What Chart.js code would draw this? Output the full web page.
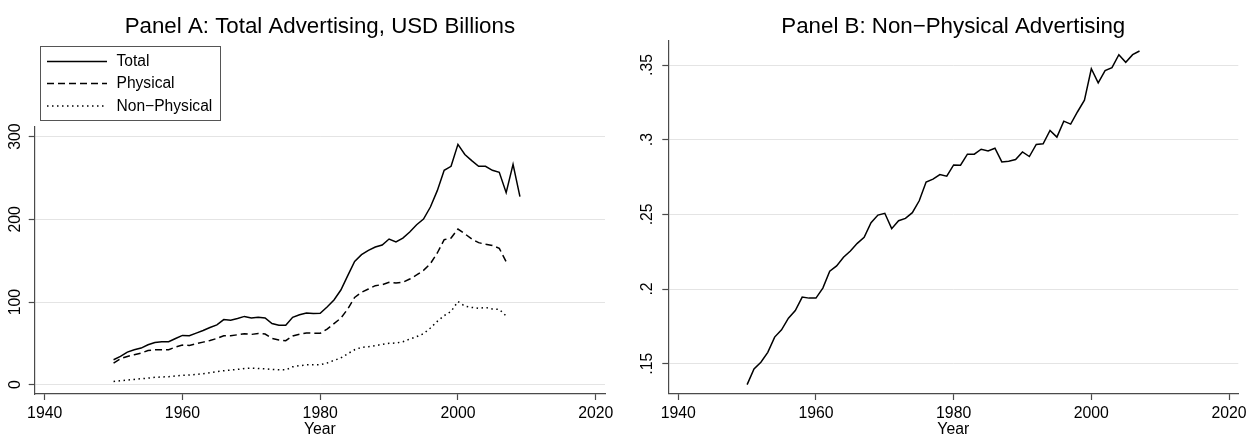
<!DOCTYPE html>
<html>
<head>
<meta charset="utf-8">
<script src="https://cdn.jsdelivr.net/npm/chart.js@4.4.1/dist/chart.umd.min.js"></script>
<style>
  html, body { margin: 0; padding: 0; background: #fff; }
  #wrap { position: relative; width: 1249px; height: 436px; }
  #panel-a { position: absolute; left: 0; top: 0; }
  #panel-b { position: absolute; left: 624px; top: 0; }
</style>
</head>
<body>
<div id="wrap">
  <canvas id="panel-a" width="624" height="436"></canvas>
  <canvas id="panel-b" width="625" height="436"></canvas>
</div>
<script>
// Advertising series, 1950 onward
const years = [
  1950, 1951, 1952, 1953, 1954, 1955, 1956, 1957, 1958, 1959,
  1960, 1961, 1962, 1963, 1964, 1965, 1966, 1967, 1968, 1969,
  1970, 1971, 1972, 1973, 1974, 1975, 1976, 1977, 1978, 1979,
  1980, 1981, 1982, 1983, 1984, 1985, 1986, 1987, 1988, 1989,
  1990, 1991, 1992, 1993, 1994, 1995, 1996, 1997, 1998, 1999,
  2000, 2001, 2002, 2003, 2004, 2005, 2006, 2007, 2008, 2009
];

// USD billions
const totalAds = [
  30.2, 34.2, 39.4, 42.3, 44.3, 48.3, 51.1, 51.9, 51.9, 55.9,
  59.6, 59.2, 62.4, 65.6, 69.2, 72.4, 78.8, 78.0, 80.0, 82.6,
  80.6, 81.6, 80.8, 73.9, 72.0, 71.8, 81.5, 84.6, 86.8, 86.0,
  86.3, 94.0, 102.4, 114.5, 131.9, 149.2, 157.3, 162.5, 166.5, 169.0,
  176.2, 172.6, 177.4, 184.7, 193.5, 200.4, 214.9, 234.7, 259.3, 264.1,
  290.7, 278.5, 271.0, 264.1, 264.1, 259.3, 256.9, 232.3, 266.5, 227.4
];
const physicalAds = [
  26.2, 31.4, 34.2, 36.2, 38.2, 41.4, 42.3, 42.3, 42.3, 45.5,
  47.9, 47.5, 49.5, 51.5, 53.5, 55.9, 59.2, 59.2, 60.4, 61.6,
  60.8, 62.0, 61.2, 56.0, 54.2, 53.2, 59.0, 61.1, 62.5, 62.3,
  62.1, 67.3, 73.8, 80.6, 91.5, 105.6, 111.7, 115.7, 119.8, 121.0,
  123.8, 123.0, 123.8, 127.8, 132.7, 138.3, 146.4, 159.3, 175.4, 177.4,
  188.3, 182.5, 176.2, 171.8, 169.8, 168.5, 164.9, 148.8
];
const nonPhysicalAds = [
  4.0, 4.8, 5.6, 6.4, 7.2, 8.0, 8.9, 9.3, 9.7, 10.5,
  11.3, 11.7, 12.5, 13.3, 14.5, 15.7, 16.9, 17.7, 18.5, 19.7,
  20.1, 19.7, 19.3, 18.5, 18.1, 17.9, 21.6, 23.0, 24.0, 24.2,
  24.2, 26.2, 29.4, 32.3, 37.5, 42.3, 45.2, 46.0, 47.2, 48.8,
  50.0, 50.4, 52.0, 55.2, 58.1, 61.7, 68.5, 76.6, 83.5, 88.7,
  100.6, 95.0, 93.5, 92.3, 93.5, 91.5, 91.1, 83.1
];

// share of non-physical in the total
const nonPhysicalShare = [
  0.136, 0.1465, 0.151, 0.1576, 0.1678, 0.1727, 0.1805, 0.1856, 0.1946, 0.1939,
  0.1939, 0.2006, 0.2119, 0.2155, 0.2213, 0.2255, 0.2306, 0.2346, 0.2444, 0.2495,
  0.2507, 0.2404, 0.2457, 0.2473, 0.2511, 0.2591, 0.2716, 0.2736, 0.2766, 0.2755,
  0.2831, 0.2829, 0.2903, 0.2903, 0.2936, 0.2925, 0.2943, 0.2851, 0.2856, 0.2867,
  0.2918, 0.2887, 0.2968, 0.2972, 0.3062, 0.3017, 0.3124, 0.3104, 0.3187, 0.3265,
  0.3475, 0.3381, 0.3462, 0.3482, 0.3569, 0.3518, 0.3569, 0.3594
];

const xTicks = [1940, 1960, 1980, 2000, 2020];
const yTicksA = [0, 100, 200, 300];
const yTicksB = [0.15, 0.2, 0.25, 0.3, 0.35];

const COLORS = {
  ink:  '#000000',
  axis: '#4a4a4a',
  grid: '#e4e4e4',
  box:  '#555555',
};
const FONT = "'Liberation Sans', Arial, Helvetica, sans-serif";

Chart.defaults.font.family = FONT;
Chart.defaults.color = COLORS.ink;

function points(vals) {
  return vals.map((v, i) => ({ x: years[i], y: v }));
}

// x axis shared by both panels
function xScale() {
  return {
    type: 'linear',
    min: 1938.55,
    max: 2021.35,
    afterBuildTicks: s => { s.ticks = xTicks.map(v => ({ value: v })); },
    afterFit: s => { s.height = 42; s.paddingLeft = 0; s.paddingRight = 0; },
    grid: { drawOnChartArea: false, drawTicks: true, tickLength: 6, tickColor: COLORS.axis, tickWidth: 1.2 },
    border: { display: true, color: COLORS.axis, width: 1.2 },
    ticks: { color: COLORS.ink, font: { size: 15.8 }, padding: 3.8, maxRotation: 0, autoSkip: false, callback: v => String(v) },
    title: { display: true, text: 'Year', color: COLORS.ink, font: { size: 15.8, lineHeight: 1 }, padding: { top: 0, bottom: -2 } }
  };
}

// y axis: labels are drawn rotated by the plugin below
function yScale(min, max, ticks, width) {
  return {
    type: 'linear',
    min: min,
    max: max,
    afterBuildTicks: s => { s.ticks = ticks.map(v => ({ value: v })); },
    afterFit: s => { s.width = width; s.paddingTop = 0; s.paddingBottom = 0; },
    grid: { color: COLORS.grid, lineWidth: 1, drawTicks: true, tickLength: 6, tickColor: COLORS.axis, tickWidth: 1.2 },
    border: { display: true, color: COLORS.axis, width: 1.2 },
    ticks: { display: false }
  };
}

// vertical tick labels reading bottom to top
function rotatedYLabels(x, fmt) {
  return {
    id: 'rotatedYLabels',
    afterDraw(chart) {
      const s = chart.scales.y;
      const ctx = chart.ctx;
      ctx.save();
      ctx.font = '15.8px ' + FONT;
      ctx.fillStyle = COLORS.ink;
      ctx.textAlign = 'center';
      ctx.textBaseline = 'middle';
      s.ticks.forEach(t => {
        ctx.save();
        ctx.translate(x, s.getPixelForValue(t.value));
        ctx.rotate(-Math.PI / 2);
        ctx.fillText(fmt(t.value), 0, 0);
        ctx.restore();
      });
      ctx.restore();
    }
  };
}

// framed legend stacked in one column above the plot
const boxedLegend = {
  id: 'boxedLegend',
  afterDraw(chart) {
    const ctx = chart.ctx;
    const rows = [61.5, 83.5, 106];
    ctx.save();
    ctx.strokeStyle = COLORS.box;
    ctx.lineWidth = 1;
    ctx.strokeRect(40.5, 46.5, 180, 74);
    chart.data.datasets.forEach((ds, i) => {
      const y = rows[i];
      ctx.setLineDash(ds.borderDash || []);
      ctx.lineWidth = ds.borderWidth;
      ctx.strokeStyle = ds.borderColor;
      ctx.beginPath();
      ctx.moveTo(47, y);
      ctx.lineTo(107, y);
      ctx.stroke();
      ctx.setLineDash([]);
      ctx.fillStyle = COLORS.ink;
      ctx.font = '15.6px ' + FONT;
      ctx.textAlign = 'left';
      ctx.textBaseline = 'middle';
      ctx.fillText(ds.label, 116.5, y + 0.5);
    });
    ctx.restore();
  }
};

const baseOptions = {
  responsive: false,
  animation: false,
  devicePixelRatio: 1,
  elements: { point: { radius: 0 }, line: { tension: 0, fill: false } },
};

function titleOpts(text, bottom) {
  return {
    display: true,
    text: text,
    fullSize: false,
    color: COLORS.ink,
    font: { size: 22.3, weight: 'normal' },
    padding: { top: 13.5, bottom: bottom }
  };
}

// Panel A: total, physical and non-physical levels
new Chart(document.getElementById('panel-a'), {
  type: 'line',
  data: {
    datasets: [
      { label: 'Total', data: points(totalAds), borderColor: COLORS.ink, borderWidth: 1.5 },
      { label: 'Physical', data: points(physicalAds), borderColor: COLORS.ink, borderWidth: 1.5, borderDash: [7, 4] },
      { label: 'Non\u2212Physical', data: points(nonPhysicalAds), borderColor: COLORS.ink, borderWidth: 1.5, borderDash: [1.5, 3.5] },
    ]
  },
  options: {
    ...baseOptions,
    layout: { padding: { left: 0, right: 19, top: 0, bottom: 0 } },
    plugins: {
      legend: { display: false },
      tooltip: { enabled: false },
      title: titleOpts('Panel A: Total Advertising, USD Billions', 86.4)
    },
    scales: {
      x: xScale(),
      y: yScale(-11.25, 312.1, yTicksA, 34.7)
    }
  },
  plugins: [rotatedYLabels(16, v => String(v)), boxedLegend]
});

// Panel B: non-physical share
new Chart(document.getElementById('panel-b'), {
  type: 'line',
  data: {
    datasets: [
      { label: 'Non\u2212Physical share', data: points(nonPhysicalShare), borderColor: COLORS.ink, borderWidth: 1.5 },
    ]
  },
  options: {
    ...baseOptions,
    layout: { padding: { left: 0, right: 10.7, top: 0, bottom: 0 } },
    plugins: {
      legend: { display: false },
      tooltip: { enabled: false },
      title: titleOpts('Panel B: Non\u2212Physical Advertising', 0.7)
    },
    scales: {
      x: xScale(),
      y: yScale(0.1297, 0.3661, yTicksB, 44.3)
    }
  },
  plugins: [rotatedYLabels(23.5, v => String(v).replace(/^0/, ''))]
});
</script>
</body>
</html>
